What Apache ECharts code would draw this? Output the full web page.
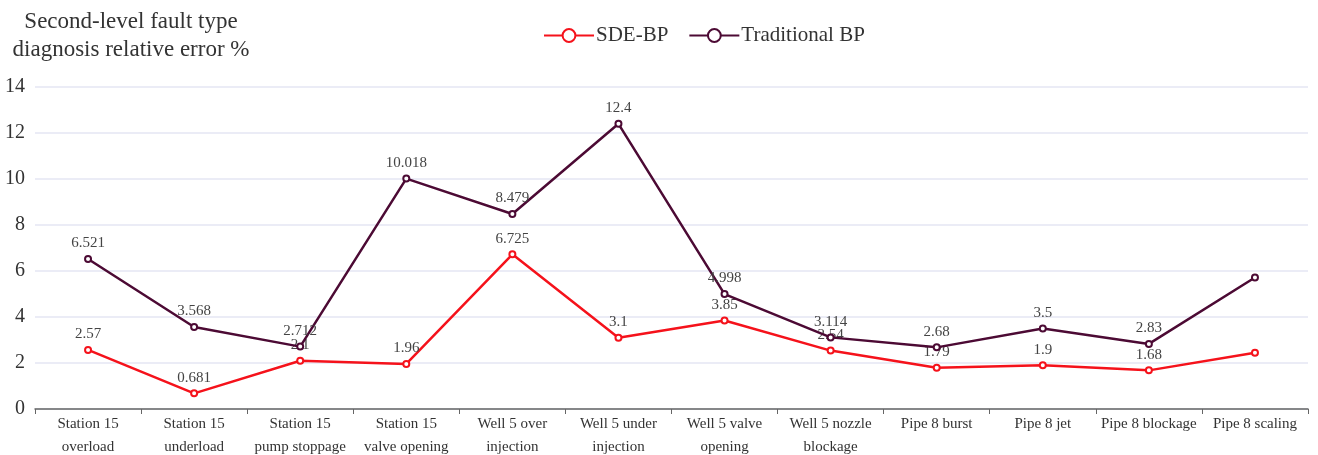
<!DOCTYPE html>
<html>
<head>
<meta charset="utf-8">
<script src="https://cdn.jsdelivr.net/npm/echarts@6/dist/echarts.min.js"></script>
<style>
  html, body { margin: 0; padding: 0; background: #fff; }
  #chart { width: 1318px; height: 455px; }
</style>
</head>
<body>
<div id="chart"></div>
<script>
// Fault categories along the x axis
const categories = [
  'Station 15\noverload', 'Station 15\nunderload', 'Station 15\npump stoppage',
  'Station 15\nvalve opening', 'Well 5 over\ninjection', 'Well 5 under\ninjection',
  'Well 5 valve\nopening', 'Well 5 nozzle\nblockage', 'Pipe 8 burst',
  'Pipe 8 jet', 'Pipe 8 blockage', 'Pipe 8 scaling'
];

// Relative error (%) per method
const sdeBP = [2.57, 0.681, 2.1, 1.96, 6.725, 3.1, 3.85, 2.54, 1.79, 1.9, 1.68, 2.45];
const traditionalBP = [6.521, 3.568, 2.712, 10.018, 8.479, 12.4, 4.998, 3.114, 2.68, 3.5, 2.83, 5.72];

// Which points carry a value label (the last category has none)
const labelled = [true, true, true, true, true, true, true, true, true, true, true, false];

const yTicks = { min: 0, max: 14, interval: 2 };

const serif = 'Liberation Serif';

function withLabels(values) {
  return values.map((v, i) => ({ value: v, label: { show: labelled[i] } }));
}

const chart = echarts.init(document.getElementById('chart'), null, { renderer: 'canvas' });

chart.setOption({
  animation: false,
  backgroundColor: '#ffffff',
  graphic: [{
    type: 'text',
    x: 131,
    y: 8,
    style: {
      text: 'Second-level fault type\ndiagnosis relative error %',
      textAlign: 'center',
      font: '23px "Liberation Serif"',
      lineHeight: 28,
      fill: '#333333'
    }
  }],
  legend: {
    top: 20,
    left: 538,
    itemWidth: 50,
    itemHeight: 16,
    itemGap: 20,
    textStyle: { fontFamily: serif, fontSize: 21, color: '#333333', padding: [0, 0, 0, -3] },
    data: ['SDE-BP', 'Traditional BP']
  },
  grid: { left: 35, right: 10, top: 87, bottom: 46, containLabel: false, outerBoundsMode: 'none' },
  xAxis: {
    type: 'category',
    data: categories,
    boundaryGap: true,
    axisLine: { lineStyle: { color: '#666666', width: 1.5 } },
    axisTick: { show: true, alignWithLabel: false, length: 5, lineStyle: { color: '#666666' } },
    axisLabel: {
      interval: 0,
      fontFamily: serif,
      fontSize: 15,
      lineHeight: 23,
      color: '#333333',
      margin: 4
    }
  },
  yAxis: {
    type: 'value',
    min: yTicks.min,
    max: yTicks.max,
    interval: yTicks.interval,
    axisLine: { show: false },
    axisTick: { show: false },
    axisLabel: { fontFamily: serif, fontSize: 20, color: '#333333', margin: 10 },
    splitLine: { lineStyle: { color: '#e4e6f3', width: 1.5 } }
  },
  series: [
    {
      name: 'SDE-BP',
      type: 'line',
      data: withLabels(sdeBP),
      symbol: 'emptyCircle',
      symbolSize: 6,
      color: '#f5121b',
      lineStyle: { width: 2.5, color: '#f5121b' },
      itemStyle: { color: '#f5121b', borderWidth: 2 },
      label: { position: 'top', distance: 4, fontFamily: serif, fontSize: 15, color: '#444444' },
      z: 3
    },
    {
      name: 'Traditional BP',
      type: 'line',
      data: withLabels(traditionalBP),
      symbol: 'emptyCircle',
      symbolSize: 6,
      color: '#4c0a34',
      lineStyle: { width: 2.5, color: '#4c0a34' },
      itemStyle: { color: '#4c0a34', borderWidth: 2 },
      label: { position: 'top', distance: 4, fontFamily: serif, fontSize: 15, color: '#444444' },
      z: 4
    }
  ]
});
</script>
</body>
</html>
